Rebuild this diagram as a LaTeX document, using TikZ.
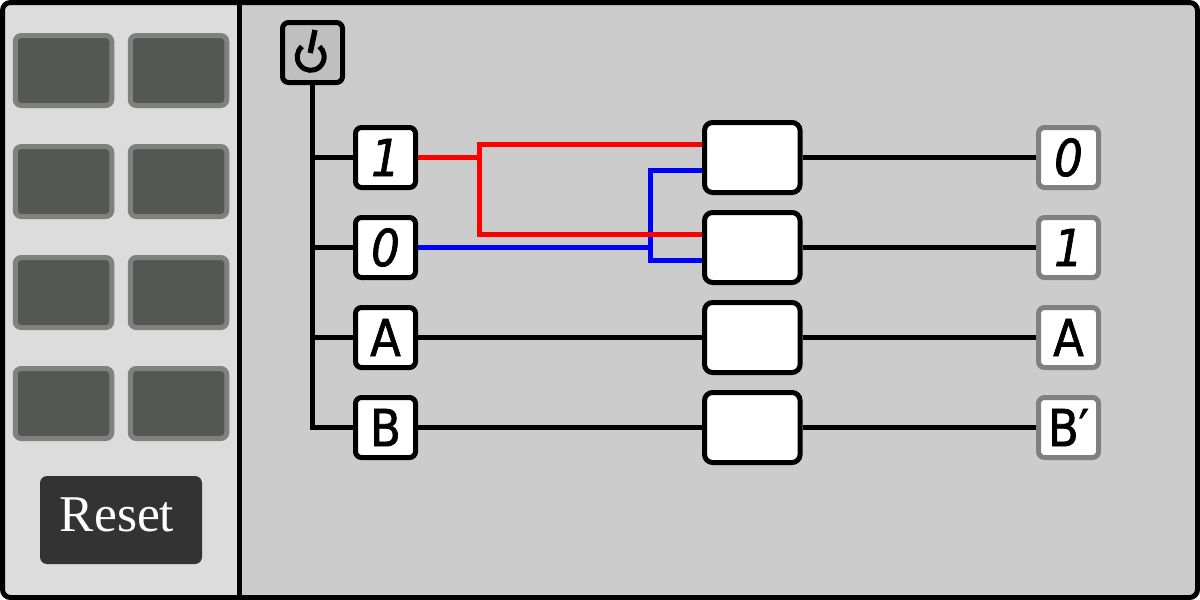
\documentclass[tikz,border=0pt]{standalone}
\usepackage{fontspec}
\setmainfont{Liberation Serif}
\newfontfamily\glyphfont[FakeBold=1.4,FakeStretch=0.88]{DejaVu Sans}
\tikzset{
  wire/.style={line width=5pt,draw=black},
  redwire/.style={line width=5pt,draw=red},
  bluewire/.style={line width=5pt,draw=blue},
  slot/.style={rectangle,draw=slotedge,fill=slotfill,line width=5pt,rounded corners=6pt,minimum width=96.5pt,minimum height=70pt,inner sep=0pt},
  inbox/.style={rectangle,draw=black,fill=white,line width=5pt,rounded corners=6pt,minimum width=60pt,minimum height=60pt,inner sep=0pt,font=\glyphfont\fontsize{51}{51}\selectfont},
  outbox/.style={inbox,draw=outedge},
  powerbox/.style={inbox,fill=powerfill},
  gate/.style={rectangle,draw=black,fill=white,line width=5pt,rounded corners=8pt,minimum width=95.5pt,minimum height=70pt,inner sep=0pt},
  resetbtn/.style={rectangle,fill=resetfill,rounded corners=7pt,minimum width=162pt,minimum height=88pt,inner sep=0pt},
  resetlabel/.style={inner sep=0pt,text=white,font=\fontsize{51.5}{51.5}\selectfont},
  slant/.style={font=\glyphfont\itshape\fontsize{51}{51}\selectfont}
}
\definecolor{slotedge}{HTML}{808080}
\definecolor{slotfill}{HTML}{555753}
\definecolor{outedge}{HTML}{808080}
\definecolor{powerfill}{HTML}{BFBFBF}
\definecolor{resetfill}{HTML}{333333}
\definecolor{leftbg}{HTML}{DCDCDC}
\definecolor{mainbg}{HTML}{CCCCCC}
\begin{document}
\begin{tikzpicture}[x=1pt,y=-1pt]
\useasboundingbox (0,0) rectangle (1200,600);
\fill[white] (0,0) rectangle (1200,600);
\fill[mainbg,rounded corners=8pt] (2.5,2.5) rectangle (1197.5,597.5);
\fill[leftbg,rounded corners=8pt] (239.5,2.5) -- (2.5,2.5) -- (2.5,597.5) -- (239.5,597.5) [sharp corners] -- cycle;
\draw[black,line width=5pt] (239.5,2.5) -- (239.5,597.5);
\draw[black,line width=5pt,rounded corners=8pt] (2.5,2.5) rectangle (1197.5,597.5);
% slots
\foreach \r/\yy in {1/70.5,2/181.5,3/292.5,4/403.5}{
  \node[slot] (sa\r) at (63.5,\yy) {};
  \node[slot] (sb\r) at (178.5,\yy) {};
}
\node[resetbtn] (reset) at (121,520) {};
\node[resetlabel,anchor=base] at (117,531.7) {Reset};
% boxes
\node[powerbox] (pw) at (312.5,52.5) {};
\node[inbox,slant] (i1) at (385.5,157.5) {1};
\node[inbox,slant] (i0) at (385.5,247.5) {0};
\node[inbox] (ia) at (385.5,337.5) {A};
\node[inbox] (ib) at (385.5,427.5) {B};
\node[gate] (g1) at (752.3,157.5) {};
\node[gate] (g2) at (752.3,247.5) {};
\node[gate] (g3) at (752.3,337.5) {};
\node[gate] (g4) at (752.3,427.5) {};
\node[outbox,slant] (o1) at (1068.5,157.5) {0};
\node[outbox,slant] (o0) at (1068.5,247.5) {1};
\node[outbox] (oa) at (1068.5,337.5) {A};
\node[outbox] (ob) at (1068.5,427.5) {B′};
% power icon
\draw[black,line width=5pt] (302,46.5) arc[start angle=130,end angle=410,radius=13.5pt];
\draw[black,line width=5.4pt] (315,30) -- (310.2,53);
% power rail
\coordinate (t1) at (312.5,157.5);
\coordinate (t2) at (312.5,247.5);
\coordinate (t3) at (312.5,337.5);
\coordinate (t4) at (312.5,427.5);
\draw[wire] (pw.south) -- (t4) -- (ib.west);
\draw[wire] (t1) -- (i1.west);
\draw[wire] (t2) -- (i0.west);
\draw[wire] (t3) -- (ia.west);
% straight wires
\draw[wire] (g1.east) -- (o1.west);
\draw[wire] (g2.east) -- (o0.west);
\draw[wire] (g3.east) -- (oa.west);
\draw[wire] (g4.east) -- (ob.west);
\draw[wire] (ia.east) -- (g3.west);
\draw[wire] (ib.east) -- (g4.west);
% crossing wires
\coordinate (bj) at (650.3,247.5);
\coordinate (bt) at (650.3,170.3);
\coordinate (bb) at (650.3,260.3);
\coordinate (rj) at (479.5,157.5);
\coordinate (rt) at (479.5,144.5);
\coordinate (rb) at (479.5,234.5);
\draw[bluewire] (i0.east) -- (bj);
\draw[bluewire] (g1.west |- bt) -- (bt) -- (bb) -- (g2.west |- bb);
\draw[redwire] (i1.east) -- (rj);
\draw[redwire] (g1.west |- rt) -- (rt) -- (rb) -- (g2.west |- rb);
\end{tikzpicture}
\end{document}
